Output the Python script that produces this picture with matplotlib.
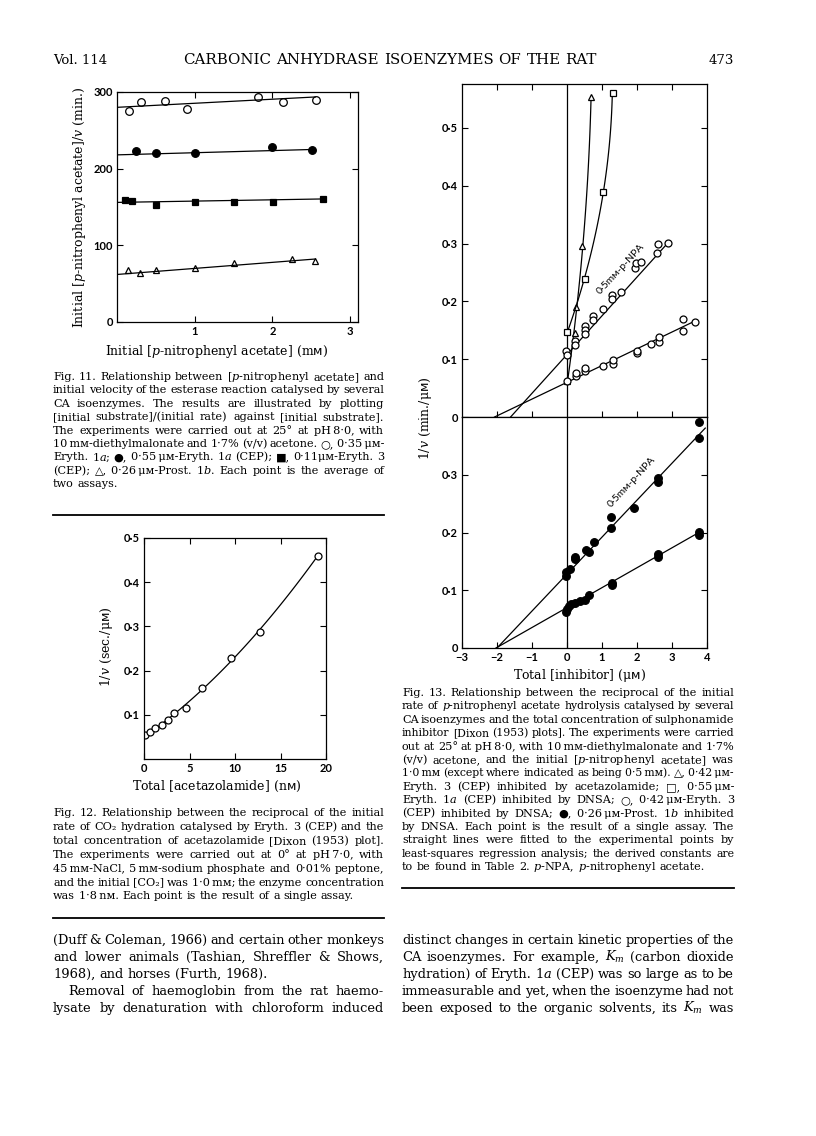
import matplotlib
matplotlib.use("Agg")
import matplotlib.pyplot as plt
import numpy as np
from matplotlib.lines import Line2D

SERIF = ['DejaVu Serif', 'DejaVu Sans']
plt.rcParams['font.family'] = SERIF
plt.rcParams['mathtext.fontset'] = 'custom'
plt.rcParams['mathtext.rm'] = 'DejaVu Serif'
plt.rcParams['mathtext.it'] = 'DejaVu Serif:italic'
plt.rcParams['mathtext.sf'] = 'DejaVu Sans'

# ---- Fig. 11 data : [S]/v against [S]
f11_open_x = [0.16, 0.31, 0.62, 0.90, 1.82, 2.14, 2.56]
f11_open_y = [275, 287, 288, 278, 294, 287, 290]
f11_fill_x = [0.25, 0.50, 1.00, 2.00, 2.51]
f11_fill_y = [223, 221, 220, 228, 224]
f11_sq_x = [0.10, 0.19, 0.50, 1.00, 1.50, 2.01, 2.65]
f11_sq_y = [159, 158, 152, 156, 157, 156, 161]
f11_tri_x = [0.14, 0.30, 0.50, 1.00, 1.50, 2.25, 2.55]
f11_tri_y = [67.5, 64, 67.5, 70.5, 77, 82, 80]
# fitted lines: intercept, slope, last x
f11_fit_open = (280, 5.3, 2.55)
f11_fit_fill = (218, 2.8, 2.55)
f11_fit_sq = (156, 1.7, 2.65)
f11_fit_tri = (62, 7.9, 2.55)

# ---- Fig. 12 data : 1/v against [acetazolamide]
f12_x = [0.1, 0.66, 1.2, 2.0, 2.6, 3.3, 4.6, 6.4, 9.6, 12.7, 19.1]
f12_y = [0.054, 0.060, 0.070, 0.076, 0.088, 0.103, 0.116, 0.161, 0.229, 0.288, 0.460]

# ---- Fig. 13 data : Dixon plots
# upper panel
f13_tri_x = [0.0, 0.23, 0.27, 0.44, 0.69]
f13_tri_y = [0.062, 0.145, 0.190, 0.296, 0.553]
f13_sq_x = [0.0, 0.52, 1.02, 1.30]
f13_sq_y = [0.147, 0.239, 0.389, 0.560]
f13_oh_x = [-0.03, 0.0, 0.24, 0.24, 0.51, 0.51, 0.51, 0.75, 0.75, 1.02, 1.29, 1.29,
            1.54, 1.94, 1.97, 2.10, 2.58, 2.60, 2.88]   # 0.5 mM p-NPA
f13_oh_y = [0.115, 0.108, 0.131, 0.124, 0.158, 0.151, 0.143, 0.174, 0.168, 0.187, 0.211, 0.204,
            0.216, 0.258, 0.266, 0.268, 0.284, 0.299, 0.301]
f13_ol_x = [0.0, 0.25, 0.25, 0.52, 0.52, 1.04, 1.30, 1.30, 2.0, 2.0, 2.39, 2.62, 2.62,
            3.31, 3.31, 3.66]   # 1.0 mM
f13_ol_y = [0.062, 0.071, 0.076, 0.080, 0.085, 0.089, 0.092, 0.098, 0.110, 0.115, 0.127,
            0.129, 0.139, 0.148, 0.170, 0.164]
f13_fit_oh = (0.108, 0.067, -1.61, 2.88)
f13_fit_ol = (0.060, 0.029, -2.07, 3.72)
# lower panel
f13_fh_x = [-0.02, -0.02, 0.09, 0.23, 0.23, 0.53, 0.63, 0.76, 1.27, 1.27, 1.91, 2.59, 2.59,
            3.77, 3.77]   # 0.5 mM p-NPA
f13_fh_y = [0.125, 0.131, 0.136, 0.158, 0.154, 0.169, 0.166, 0.183, 0.226, 0.208, 0.243,
            0.295, 0.288, 0.392, 0.364]
f13_fl_x = [-0.02, 0.0, 0.05, 0.11, 0.22, 0.37, 0.51, 0.63, 1.28, 1.28, 2.60, 2.60, 3.77, 3.77]
f13_fl_y = [0.063, 0.067, 0.072, 0.077, 0.078, 0.081, 0.083, 0.091, 0.113, 0.109, 0.163,
            0.158, 0.201, 0.196]
f13_fit_fh = (0.128, 0.064, -2.0, 3.95)
f13_fit_fl = (0.070, 0.0345, -2.03, 3.77)

W, H = 816, 1136
fig = plt.figure(figsize=(W / 100, H / 100), dpi=100)
R = fig.canvas.get_renderer()

def box(l, t, r, b):
    return [l / W, 1 - b / H, (r - l) / W, (b - t) / H]

def txt(x, y, s, **kw):
    return fig.text(x / W, 1 - y / H, s, **kw)

SANS = ['Lato', 'DejaVu Sans']

def style(ax, size=8):
    for sp in ax.spines.values():
        sp.set_linewidth(0.9)
    ax.tick_params(direction='in', top=True, right=True, length=4, width=0.8, pad=3)
    for lab in ax.get_xticklabels() + ax.get_yticklabels():
        lab.set_fontfamily(SANS)
        lab.set_fontweight('bold')
        lab.set_fontsize(size)

def fitline(ax, p, x0, x1):
    xs = np.array([x0, x1])
    ax.plot(xs, p[0] + p[1] * xs, color='k', lw=0.9)

def dec(v):
    return f"{v:.1f}".replace('.', '·')

mk = dict(color='k', ls='none', mew=0.9)
LAB = 9

# ---------------- Fig 11
ax = fig.add_axes(box(117, 92, 358, 322))
ax.plot(f11_open_x, f11_open_y, 'o', mfc='white', ms=5.5, **mk)
ax.plot(f11_fill_x, f11_fill_y, 'o', ms=5.5, **mk)
ax.plot(f11_sq_x, f11_sq_y, 's', ms=5, **mk)
ax.plot(f11_tri_x, f11_tri_y, '^', mfc='white', ms=5, **mk)
for p in (f11_fit_open, f11_fit_fill, f11_fit_sq, f11_fit_tri):
    fitline(ax, p, 0, p[2])
ax.set_xlim(0, 3.1)
ax.set_ylim(0, 300)
ax.set_xticks([1, 2, 3], ['1', '2', '3'])
ax.set_yticks([0, 100, 200, 300], ['0', '100', '200', '300'])
style(ax)
txt(80, 207, 'Initial [$p$-nitrophenyl acetate]/$v$ (min.)', size=LAB, rotation=90,
    ha='center', va='center')
txt(217, 352, 'Initial [$p$-nitrophenyl acetate] (m$\\mathsf{ᴍ}$)', size=LAB,
    ha='center', va='center')

# ---------------- Fig 12
ax = fig.add_axes(box(144, 538, 326, 759))
c = np.polyfit(f12_x, f12_y, 2)
xs = np.linspace(0, f12_x[-1], 100)
ax.plot(xs, np.polyval(c, xs), color='k', lw=0.9)
ax.plot(f12_x, f12_y, 'o', mfc='white', ms=5, **mk)
ax.set_xlim(0, 20)
ax.set_ylim(0, 0.5)
ax.set_xticks([0, 5, 10, 15, 20], ['0', '5', '10', '15', '20'])
yt = [0.1, 0.2, 0.3, 0.4, 0.5]
ax.set_yticks(yt, [dec(v) for v in yt])
style(ax)
txt(106, 647, '1/$v$ (sec./μ$\\mathsf{ᴍ}$)', size=LAB, rotation=90, ha='center', va='center')
txt(217, 786, 'Total [acetazolamide] (n$\\mathsf{ᴍ}$)', size=LAB, ha='center', va='center')

# ---------------- Fig 13
up = fig.add_axes(box(462, 84, 707, 417))
lo = fig.add_axes(box(462, 417, 707, 648))
for a in (up, lo):
    a.axvline(0, color='k', lw=0.9)
    a.set_xlim(-3, 4)

# upper: curves fitted with x as a function of y
for yv, xv, m in ((f13_tri_y, f13_tri_x, '^'), (f13_sq_y, f13_sq_x, 's')):
    cc = np.polyfit(yv, xv, 2)
    ys = np.linspace(yv[0], yv[-1], 100)
    up.plot(np.polyval(cc, ys), ys, color='k', lw=0.9)
    up.plot(xv, yv, m, mfc='white', ms=5, **mk)
fitline(up, f13_fit_oh, f13_fit_oh[2], f13_fit_oh[3])
fitline(up, f13_fit_ol, f13_fit_ol[2], f13_fit_ol[3])
up.plot(f13_oh_x, f13_oh_y, 'o', mfc='white', ms=5, **mk)
up.plot(f13_ol_x, f13_ol_y, 'o', mfc='white', ms=5, **mk)
up.set_ylim(0, 0.576)
up.set_xticks([-2, -1, 1, 2, 3], [''] * 5)
yt = [0, 0.1, 0.2, 0.3, 0.4, 0.5]
up.set_yticks(yt, ['0'] + [dec(v) for v in yt[1:]])
style(up)
up.text(1.54, 0.256, '0·5mᴍ-p-NPA', rotation=47, ha='center', va='center', size=7.5,
        family=SANS, rotation_mode='anchor')

# lower
fitline(lo, f13_fit_fh, f13_fit_fh[2], f13_fit_fh[3])
fitline(lo, f13_fit_fl, f13_fit_fl[2], f13_fit_fl[3])
lo.plot(f13_fh_x, f13_fh_y, 'o', ms=5.5, **mk)
lo.plot(f13_fl_x, f13_fl_y, 'o', ms=5.5, **mk)
lo.set_ylim(0, 0.40)
xt = [-3, -2, -1, 0, 1, 2, 3, 4]
lo.set_xticks(xt, [str(v).replace('-', '−') for v in xt])
yt = [0, 0.1, 0.2, 0.3]
lo.set_yticks(yt, ['0'] + [dec(v) for v in yt[1:]])
style(lo)
lo.tick_params(top=False)
lo.text(1.84, 0.288, '0·5mᴍ-p-NPA', rotation=47, ha='center', va='center', size=7.5,
        family=SANS, rotation_mode='anchor')
txt(425, 418, '1/$v$ (min./μ$\\mathsf{ᴍ}$)', size=LAB, rotation=90, ha='center', va='center')
txt(580, 676, 'Total [inhibitor] (μ$\\mathsf{ᴍ}$)', size=LAB, ha='center', va='center')


# ---------------- running text, justified word by word
def width(s, size):
    t = txt(0, 0, s, size=size)
    w = t.get_window_extent(R).width
    t.remove()
    return w

def fit_size(lines, span, s0=8.0):
    # font size that lets a typical full line fill the column
    ratios = []
    for line in lines:
        ind = 15 if line.startswith('>') else 0
        ratios.append((span - ind) / width(line.lstrip('>'), s0))
    return s0 * np.median(ratios) * 0.995

def place_line(words, x0, x1, y, size, ragged):
    sp = width('a a', size) - width('aa', size)
    ts = [txt(0, y, w, size=size, va='baseline') for w in words]
    ws = [t.get_window_extent(R).width for t in ts]
    if ragged or len(words) == 1:
        gap = sp
    else:
        gap = (x1 - x0 - sum(ws)) / (len(words) - 1)
        if gap < 0.6 * sp:
            # crowded line: set it a touch smaller
            for t in ts:
                t.remove()
            return place_line(words, x0, x1, y, size * 0.97, ragged)
    x = x0
    for t, w in zip(ts, ws):
        t.set_x(x / W)
        x += w + gap

def para(lines, x0, x1, y0, dy, size, last_ragged=True):
    for i, line in enumerate(lines):
        indent = 0
        if line.startswith('>'):
            indent, line = 15, line[1:]
        words = [w for w in line.split(' ') if w]
        place_line(words, x0 + indent, x1, y0 + i * dy, size,
                   last_ragged and i == len(lines) - 1)

T = '\u2009'
cap11 = [
    "Fig. 11.  Relationship between [$p$-nitrophenyl acetate] and",
    "initial velocity of the esterase reaction catalysed by several",
    "CA isoenzymes.  The results are illustrated by plotting",
    "[initial substrate]/(initial rate) against [initial substrate].",
    "The experiments were carried out at 25° at pH" + T + "8·0, with",
    "10" + T + "mᴍ-diethylmalonate and 1·7% (v/v) acetone.  ○, 0·35" + T + "μᴍ-",
    "Eryth. 1$a$; ●, 0·55" + T + "μᴍ-Eryth. 1$a$ (CEP); ■, 0·11μᴍ-Eryth. 3",
    "(CEP); △, 0·26" + T + "μᴍ-Prost. 1$b$.  Each point is the average of",
    "two assays.",
]
cap12 = [
    "Fig. 12.  Relationship between the reciprocal of the initial",
    "rate of CO₂ hydration catalysed by Eryth. 3 (CEP) and the",
    "total concentration of acetazolamide [Dixon (1953) plot].",
    "The experiments were carried out at 0° at pH" + T + "7·0, with",
    "45" + T + "mᴍ-NaCl, 5" + T + "mᴍ-sodium phosphate and 0·01% peptone,",
    "and the initial [CO₂] was 1·0" + T + "mᴍ; the enzyme concentration",
    "was 1·8" + T + "nᴍ.  Each point is the result of a single assay.",
]
cap13 = [
    "Fig. 13.  Relationship between the reciprocal of the initial",
    "rate of $p$-nitrophenyl acetate hydrolysis catalysed by several",
    "CA isoenzymes and the total concentration of sulphonamide",
    "inhibitor [Dixon (1953) plots].  The experiments were carried",
    "out at 25° at pH" + T + "8·0, with 10" + T + "mᴍ-diethylmalonate and 1·7%",
    "(v/v) acetone, and the initial [$p$-nitrophenyl acetate] was",
    "1·0" + T + "mᴍ (except where indicated as being 0·5" + T + "mᴍ).  △, 0·42" + T + "μᴍ-",
    "Eryth. 3 (CEP) inhibited by acetazolamide; □, 0·55" + T + "μᴍ-",
    "Eryth. 1$a$ (CEP) inhibited by DNSA; ○, 0·42" + T + "μᴍ-Eryth. 3",
    "(CEP) inhibited by DNSA; ●, 0·26" + T + "μᴍ-Prost. 1$b$ inhibited",
    "by DNSA.  Each point is the result of a single assay.  The",
    "straight lines were fitted to the experimental points by",
    "least-squares regression analysis; the derived constants are",
    "to be found in Table 2.  $p$-NPA, $p$-nitrophenyl acetate.",
]
body_l1 = [
    "(Duff & Coleman, 1966) and certain other monkeys",
    "and lower animals (Tashian, Shreffler & Shows,",
    "1968), and horses (Furth, 1968).",
]
body_l2 = [
    ">Removal of haemoglobin from the rat haemo-",
    "lysate by denaturation with chloroform induced",
]
body_r = [
    "distinct changes in certain kinetic properties of the",
    "CA isoenzymes.  For example, $K_m$ (carbon dioxide",
    "hydration) of Eryth. 1$a$ (CEP) was so large as to be",
    "immeasurable and yet, when the isoenzyme had not",
    "been exposed to the organic solvents, its $K_m$ was",
]

# two equal columns
LX0, LX1 = 53, 384
RX0, RX1 = 402, 734
cs = fit_size(cap11[:-1] + cap12[:-1] + cap13[:-1], LX1 - LX0)
para(cap11, LX0, LX1, 380, 13.4, cs)
para(cap12, LX0, LX1, 816, 13.9, cs)
para(cap13, RX0, RX1, 696, 13.4, cs)
bs = fit_size(body_l1[:-1] + body_l2 + body_r, LX1 - LX0, 10)
para(body_l1, LX0, LX1, 944, 17, bs)
para(body_l2, LX0, LX1, 995, 17, bs, last_ragged=False)
para(body_r, RX0, RX1, 944, 17, bs, last_ragged=False)

# running head
title = ['CARBONIC ANHYDRASE ISOENZYMES OF THE RAT']
para(title, 183, 597, 64, 0, fit_size(title, 414, 11), last_ragged=False)
txt(LX0, 64, 'Vol. 114', size=bs * 1.02, va='baseline')
txt(RX1, 64, '473', size=bs * 1.02, va='baseline', ha='right')

# rules
for x0, x1, y in ((LX0, LX1, 515), (LX0, LX1, 918), (RX0, RX1, 888)):
    fig.add_artist(Line2D([x0 / W, x1 / W], [1 - y / H, 1 - y / H], color='k', lw=1.3))

fig.savefig('out.png', dpi=100)
